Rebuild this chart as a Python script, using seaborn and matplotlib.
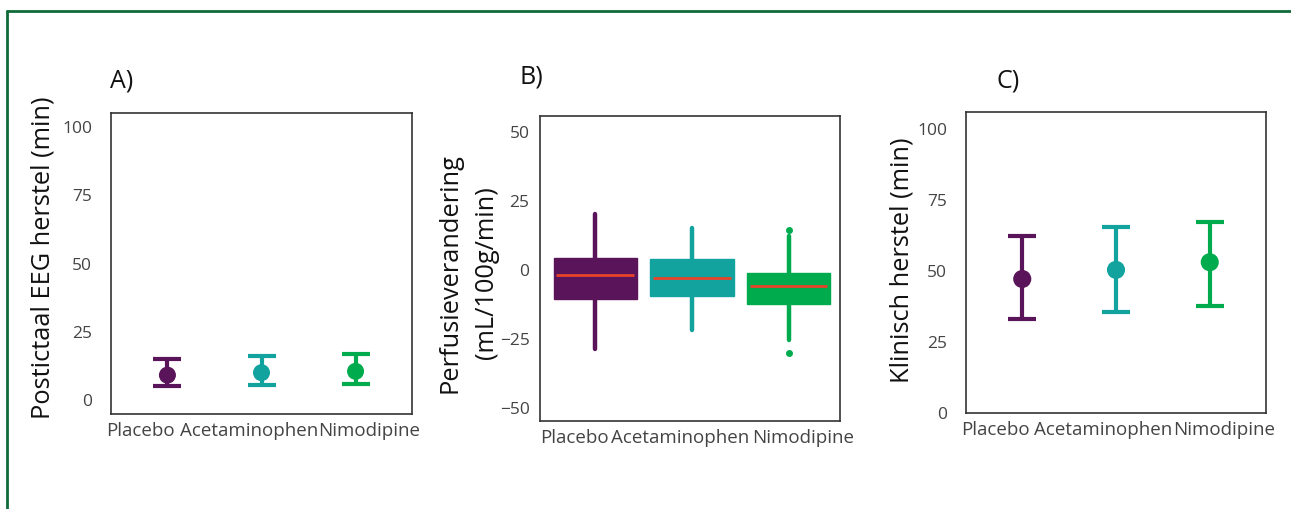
import numpy as np
import pandas as pd
import matplotlib
matplotlib.use("Agg")
import matplotlib.pyplot as plt
import matplotlib.transforms as mtrans
from matplotlib.lines import Line2D
import seaborn as sns

# groups and colours
groups = ["Placebo", "Acetaminophen", "Nimodipine"]
colors = ["#5a1459", "#12a39f", "#00ab4e"]

# A) postictal EEG recovery (min): mean with lower/upper error
eeg_mean = [9.2, 10.1, 10.6]
eeg_low = [5.2, 5.7, 6.1]
eeg_high = [15.2, 16.2, 17.1]

# B) perfusion change (mL/100g/min): box summaries
perf_whislo = [-28.6, -21.7, -25.3]
perf_q1 = [-10.6, -9.4, -12.4]
perf_med = [-1.7, -2.9, -5.9]
perf_q3 = [4.2, 4.0, -1.0]
perf_whishi = [20.1, 15.1, 12.4]
perf_fliers = [[], [], [14.6, -30.1]]

# C) clinical recovery (min): mean with lower/upper error
clin_mean = [47.2, 50.4, 53.1]
clin_low = [33.1, 35.7, 37.7]
clin_high = [62.4, 65.4, 67.3]

sns.set_style("white")
plt.rcParams['font.family'] = ['Open Sans', 'DejaVu Sans']

W, H = 1291, 509
fig = plt.figure(figsize=(W / 100, H / 100), dpi=100)


def px_axes(l, t, r, b):
    return fig.add_axes([l / W, 1 - b / H, (r - l) / W, (b - t) / H])


def style(ax, ypad, shifts):
    for s in ax.spines.values():
        s.set_color("#333333")
        s.set_linewidth(1.2)
    ax.tick_params(axis="both", length=2.5, width=0.8, color="#999999")
    ax.tick_params(axis="y", labelsize=12.5, labelcolor="#444444", pad=ypad)
    ax.tick_params(axis="x", labelsize=13.5, labelcolor="#444444", pad=3)
    # labels in the original are spread apart so they don't collide
    for lab, dx in zip(ax.get_xticklabels(), shifts):
        lab.set_transform(lab.get_transform() +
                          mtrans.ScaledTranslation(dx / 100, 0, fig.dpi_scale_trans))


def mean_panel(ax, means, lows, highs, ylim, msize):
    df = pd.DataFrame({"group": groups, "value": means})
    for i, g in enumerate(groups):
        ax.errorbar(i, means[i], yerr=[[means[i] - lows[i]], [highs[i] - means[i]]],
                    color=colors[i], lw=3, capsize=10, capthick=3, zorder=2)
    sns.scatterplot(data=df, x="group", y="value", hue="group", palette=colors,
                    s=msize, edgecolor="none", legend=False, ax=ax, zorder=3)
    ax.set_xlim(-0.6, 2.6)
    ax.set_ylim(*ylim)
    ax.set_yticks([0, 25, 50, 75, 100])
    ax.set_xlabel("")


# A
axA = px_axes(111, 113, 412, 414)
mean_panel(axA, eeg_mean, eeg_low, eeg_high, (-5, 105), 150)
axA.set_ylabel("Postictaal EEG herstel (min)", fontsize=18.3, color="#111111", va="center")
axA.yaxis.set_label_coords(-0.225, 0.52)
style(axA, 11, [-27, -12, 14])

# B
axB = px_axes(540, 116, 840, 421)
stats = []
for i, g in enumerate(groups):
    stats.append(dict(label=g, whislo=perf_whislo[i], q1=perf_q1[i], med=perf_med[i],
                      q3=perf_q3[i], whishi=perf_whishi[i], fliers=perf_fliers[i]))
bp = axB.bxp(stats, positions=[0, 1, 2], widths=0.86, patch_artist=True,
             showcaps=False, manage_ticks=False)
for i, box in enumerate(bp["boxes"]):
    box.set_facecolor(colors[i])
    box.set_edgecolor(colors[i])
    box.set_linewidth(1)
for i, med in enumerate(bp["medians"]):
    med.set_color("#e8432a")
    med.set_linewidth(2)
    med.set_xdata([i - 0.4, i + 0.4])
for i in range(3):
    for w in bp["whiskers"][2 * i:2 * i + 2]:
        w.set_color(colors[i])
        w.set_linewidth(3.2)
    f = bp["fliers"][i]
    f.set_marker("o")
    f.set_markerfacecolor(colors[i])
    f.set_markeredgecolor(colors[i])
    f.set_markersize(4)
axB.set_xticks([0, 1, 2])
axB.set_xticklabels(groups)
axB.set_xlim(-0.57, 2.53)
axB.set_ylim(-54.6, 55.7)
axB.set_yticks([-50, -25, 0, 25, 50])
axB.set_yticklabels(["\u221250", "\u221225", "0", "25", "50"])
axB.set_ylabel("Perfusieverandering\n(mL/100g/min)", fontsize=18.3, color="#111111",
               linespacing=1.6, va="center")
axB.yaxis.set_label_coords(-0.24, 0.485)
style(axB, 5, [-21, -12, 14])

# C
axC = px_axes(966, 112, 1266, 413)
mean_panel(axC, clin_mean, clin_low, clin_high, (0, 106), 170)
axC.set_ylabel("Klinisch herstel (min)", fontsize=18.3, color="#111111", va="center")
axC.yaxis.set_label_coords(-0.213, 0.508)
style(axC, 11, [-26.5, -12.5, 14])

# panel letters
for letter, x, y in [("A)", 110, 81), ("B)", 519, 77), ("C)", 997, 81)]:
    fig.text(x / W, 1 - y / H, letter, fontsize=18, ha="left", va="center", color="#111111")

# green frame
frame_col = "#0f6b3a"
fig.add_artist(Line2D([7 / W, 7 / W], [0, 1 - 11 / H], color=frame_col, lw=2,
                      transform=fig.transFigure))
fig.add_artist(Line2D([7 / W, 1], [1 - 11 / H, 1 - 11 / H], color=frame_col, lw=2,
                      transform=fig.transFigure))

fig.savefig("out.png", dpi=100, facecolor="white")
